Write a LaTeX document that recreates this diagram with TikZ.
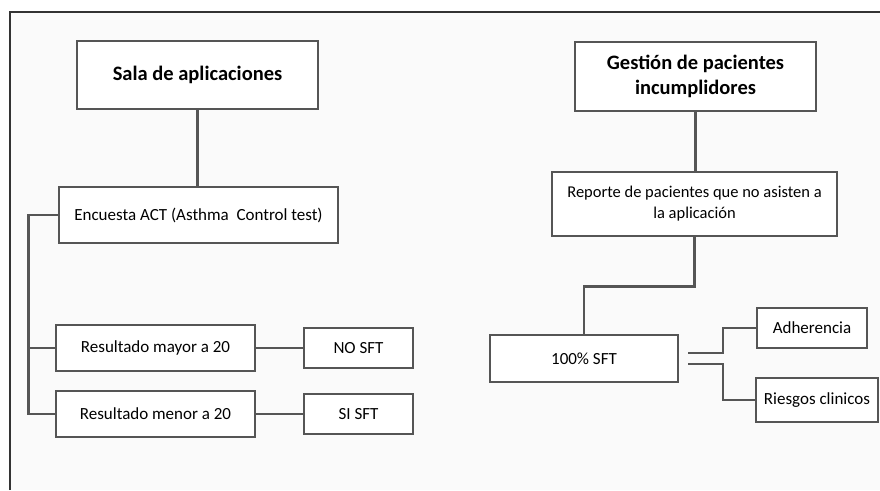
\documentclass[tikz,border=0pt]{standalone}
\usepackage{fontspec}
\setmainfont{Carlito}
\usetikzlibrary{positioning}
\definecolor{linegray}{HTML}{555555}
\definecolor{framegray}{HTML}{333333}
\definecolor{paper}{HTML}{FAFAFA}

\begin{document}
\begin{tikzpicture}[
    x=1pt, y=-1pt,
    box/.style={rectangle, draw=linegray, line width=2.8pt, fill=white,
                align=center, inner sep=2pt, font=\fontsize{17}{21}\selectfont},
    head/.style={box, font=\fontsize{20.5}{25}\selectfont\bfseries},
    link/.style={draw=linegray, line width=2.8pt},
]
\useasboundingbox (0,0) rectangle (880,490);
\fill[paper] (10,12) rectangle (880,490);
\draw[framegray, line width=1.2pt] (10,490) -- (10,12) -- (880,12);

% left branch
\node[head, minimum width=241, minimum height=68] (sala) at (197.5,75) {Sala de aplicaciones};
\node[box, minimum width=279, minimum height=56] (encuesta) at (198.5,215) {Encuesta ACT (Asthma~ Control test)};
\node[box, minimum width=199, minimum height=46] (mayor) at (155.5,348) {Resultado mayor a 20};
\node[box, minimum width=199, minimum height=46] (menor) at (155.5,414) {Resultado menor a 20};
\node[box, minimum width=109, minimum height=40] (nosft) at (358.5,348) {NO SFT};
\node[box, minimum width=109, minimum height=40] (sisft) at (358.5,414) {SI SFT};

% right branch
\node[head, minimum width=241, minimum height=69] (gestion) at (695.5,76.5) {Gestión de pacientes\\incumplidores};
\node[box, minimum width=285, minimum height=64, font=\fontsize{16.5}{21}\selectfont] (reporte) at (694.5,204) {Reporte de pacientes que no asisten a\\la aplicación};
\node[box, minimum width=188, minimum height=47] (cien) at (584,358.5) {100\% SFT};
\node[box, minimum width=110, minimum height=40] (adher) at (812,328) {Adherencia};
\node[box, minimum width=122, minimum height=44] (riesgos) at (817,400) {Riesgos clinicos};
\coordinate (tipA) at (688,353);
\coordinate (tipB) at (688,364);

\draw[link] (sala.south) -- (sala.south |- encuesta.north);
\draw[link] (encuesta.west) -- ++(-29,0) |- (menor.west);
\draw[link] (mayor.west) -- ++(-26,0);
\draw[link] (mayor.east) -- (nosft.west);
\draw[link] (menor.east) -- (sisft.west);

\draw[link] (gestion.south) -- (gestion.south |- reporte.north);
\draw[link] (reporte.south) -- ++(0,49) -| (cien.north);
\draw[link] (tipA) -- ++(35,0) |- (adher.west);
\draw[link] (tipB) -- ++(35,0) |- (riesgos.west);
\end{tikzpicture}
\end{document}
